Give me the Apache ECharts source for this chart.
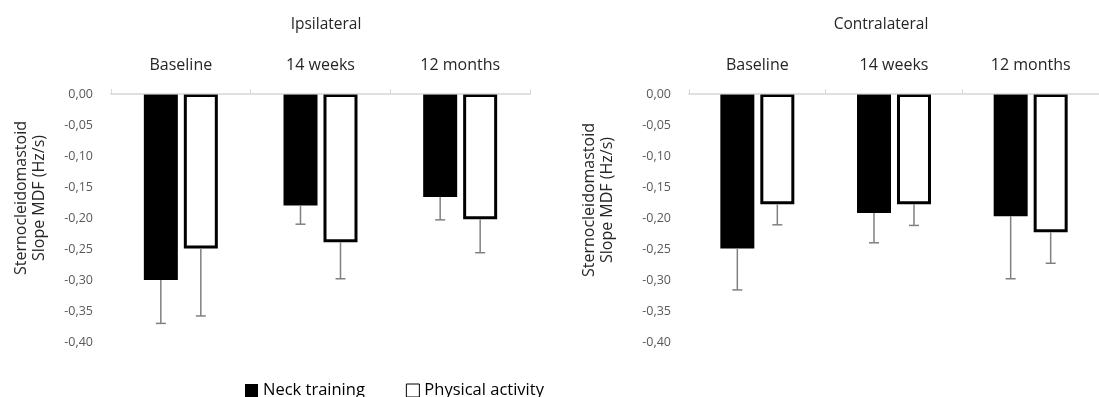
<!DOCTYPE html>
<html>
<head>
<meta charset="utf-8">
<script src="https://cdn.jsdelivr.net/npm/echarts@6/dist/echarts.min.js"></script>
<style>
  html, body { margin: 0; padding: 0; background: #fff; }
  #chart { width: 1099px; height: 397px; }
</style>
</head>
<body>
<div id="chart"></div>
<script>
// Time points along the top axis
const categories = ['Baseline', '14 weeks', '12 months'];

// Mean MDF slope (Hz/s) per group, and the SD drawn as a one-sided error bar
const ipsiNeck = [-0.300, -0.180, -0.166];
const ipsiNeckSd = [0.070, 0.030, 0.037];
const ipsiActivity = [-0.249, -0.239, -0.202];
const ipsiActivitySd = [0.109, 0.059, 0.054];

const contraNeck = [-0.249, -0.192, -0.197];
const contraNeckSd = [0.067, 0.048, 0.101];
const contraActivity = [-0.178, -0.178, -0.223];
const contraActivitySd = [0.033, 0.034, 0.050];

const yTicks = { min: -0.40, max: 0, interval: 0.05 };

const FONT = 'Open Sans';
const BAR_W = 34;
const BAR_GAP = 6;
const HALF_STEP = (BAR_W + BAR_GAP) / 2;

function fmt(v) {
  return v.toFixed(2).replace('.', ',');
}

function xAxisFor(gridIndex) {
  return {
    type: 'category',
    gridIndex: gridIndex,
    data: categories,
    position: 'top',
    z: 5,
    axisLine: { show: true, lineStyle: { color: 'rgba(205,205,205,0.62)', width: 2 } },
    axisTick: { show: true, length: 5, lineStyle: { color: '#d9d9d9', width: 1 } },
    axisLabel: { margin: 21, fontFamily: FONT, fontSize: 16, color: '#262626' },
    splitLine: { show: false }
  };
}

function yAxisFor(gridIndex) {
  return {
    type: 'value',
    gridIndex: gridIndex,
    min: yTicks.min,
    max: yTicks.max,
    interval: yTicks.interval,
    axisLine: { show: false },
    axisTick: { show: false },
    splitLine: { show: false },
    axisLabel: {
      margin: 18,
      fontFamily: FONT,
      fontSize: 12.5,
      color: '#595959',
      formatter: fmt
    }
  };
}

function barSeries(name, values, gridIndex, filled) {
  return {
    name: name,
    type: 'bar',
    xAxisIndex: gridIndex,
    yAxisIndex: gridIndex,
    barWidth: BAR_W,
    barGap: (BAR_GAP / BAR_W * 100).toFixed(1) + '%',
    data: values,
    itemStyle: filled
      ? { color: '#000' }
      : { color: '#fff', borderColor: '#000', borderWidth: 3 },
    emphasis: { disabled: true }
  };
}

// One-sided SD whiskers hanging below each bar
function errorSeries(values, sds, gridIndex, offset) {
  const data = values.map((v, i) => [i, v, v - sds[i]]);
  return {
    type: 'custom',
    name: 'sd',
    xAxisIndex: gridIndex,
    yAxisIndex: gridIndex,
    z: 4,
    data: data,
    renderItem: function (params, api) {
      const top = api.coord([api.value(0), api.value(1)]);
      const bottom = api.coord([api.value(0), api.value(2)]);
      const x = top[0] + offset;
      const cap = 5;
      const style = { stroke: '#808080', lineWidth: 1.5 };
      return {
        type: 'group',
        children: [
          { type: 'line', shape: { x1: x, y1: top[1], x2: x, y2: bottom[1] }, style: style },
          { type: 'line', shape: { x1: x - cap, y1: bottom[1], x2: x + cap, y2: bottom[1] }, style: style }
        ]
      };
    }
  };
}

function axisTitle(x, y) {
  return {
    type: 'text',
    x: x,
    y: y,
    rotation: Math.PI / 2,
    style: {
      text: 'Sternocleidomastoid\nSlope MDF (Hz/s)',
      fontFamily: FONT,
      fontSize: 16,
      lineHeight: 18,
      fill: '#262626',
      align: 'center',
      verticalAlign: 'middle'
    }
  };
}

const chart = echarts.init(document.getElementById('chart'));

chart.setOption({
  animation: false,
  backgroundColor: '#fff',
  title: [
    { text: 'Ipsilateral', left: 321, top: 12, textAlign: 'center',
      textStyle: { fontFamily: FONT, fontSize: 15.5, fontWeight: 'normal', color: '#262626' } },
    { text: 'Contralateral', left: 876, top: 12, textAlign: 'center',
      textStyle: { fontFamily: FONT, fontSize: 15.5, fontWeight: 'normal', color: '#262626' } }
  ],
  legend: {
    left: 240,
    top: 377,
    itemWidth: 13,
    itemHeight: 13,
    itemGap: 41,
    icon: 'rect',
    textStyle: { fontFamily: FONT, fontSize: 16.5, color: '#000' },
    data: [
      { name: 'Neck training', itemStyle: { color: '#000', borderWidth: 0 } },
      { name: 'Physical activity', itemStyle: { color: '#fff', borderColor: '#000', borderWidth: 1 } }
    ]
  },
  grid: [
    { left: 111, top: 94, width: 419, height: 248 },
    { left: 689, top: 94, width: 419, height: 248 }
  ],
  xAxis: [xAxisFor(0), xAxisFor(1)],
  yAxis: [yAxisFor(0), yAxisFor(1)],
  graphic: [axisTitle(30, 198), axisTitle(598, 200)],
  series: [
    barSeries('Neck training', ipsiNeck, 0, true),
    barSeries('Physical activity', ipsiActivity, 0, false),
    errorSeries(ipsiNeck, ipsiNeckSd, 0, -HALF_STEP),
    errorSeries(ipsiActivity, ipsiActivitySd, 0, HALF_STEP),
    barSeries('Neck training', contraNeck, 1, true),
    barSeries('Physical activity', contraActivity, 1, false),
    errorSeries(contraNeck, contraNeckSd, 1, -HALF_STEP),
    errorSeries(contraActivity, contraActivitySd, 1, HALF_STEP)
  ]
});
</script>
</body>
</html>
